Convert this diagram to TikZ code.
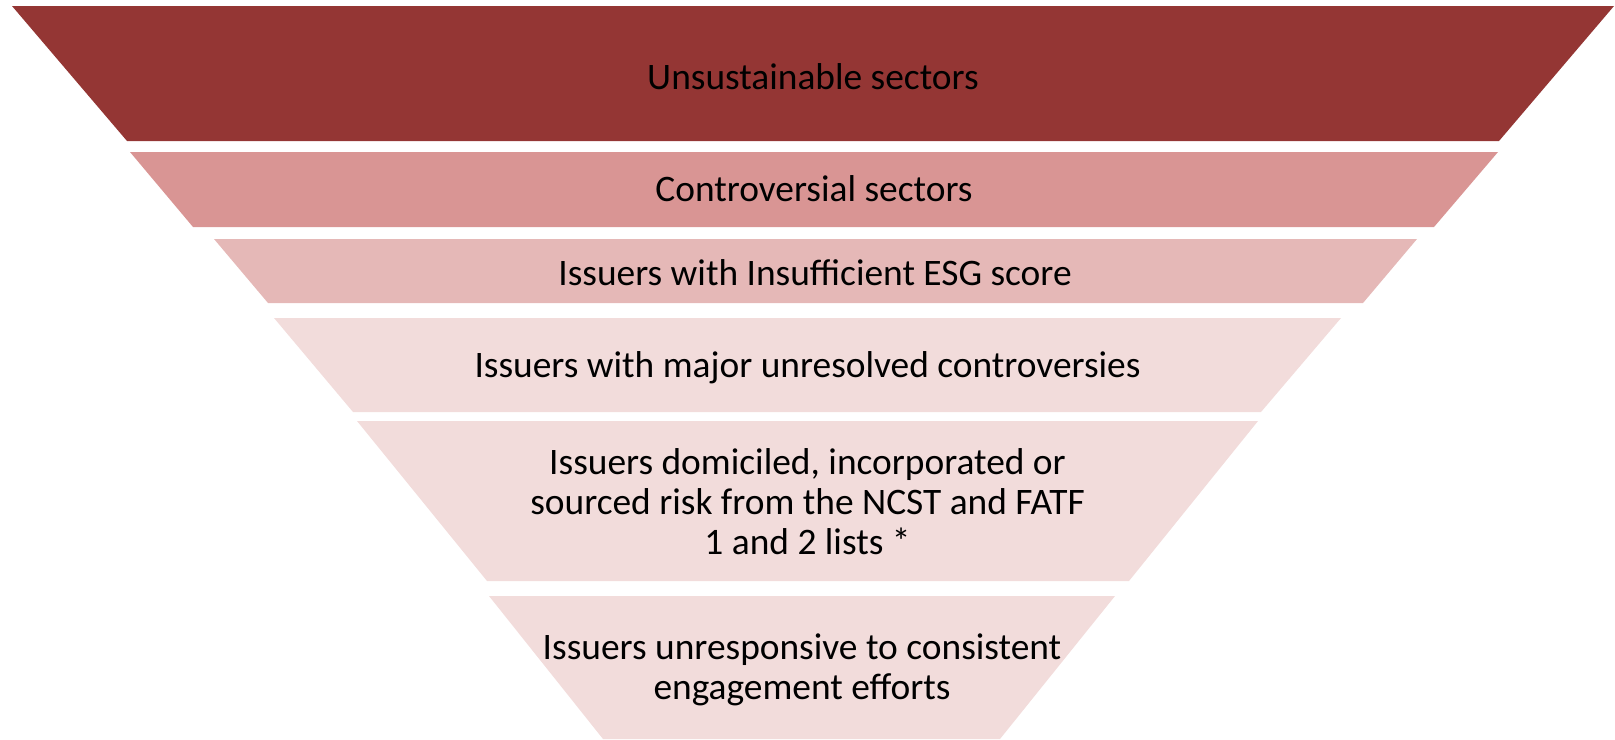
\documentclass[tikz,border=0pt]{standalone}
\usepackage{fontspec}
\setmainfont{Carlito}
\definecolor{tierdark}{HTML}{943634}
\definecolor{tiermid}{HTML}{D99594}
\definecolor{tierlight}{HTML}{E5B8B7}
\definecolor{tierpale}{HTML}{F2DCDB}
\tikzset{
  tierlabel/.style={align=center, text=black, inner sep=0pt,
    font=\fontsize{18.7}{20}\selectfont}
}
\begin{document}
\begin{tikzpicture}[x=0.5pt,y=-0.5pt]
\useasboundingbox (0,0) rectangle (1615,739);

% 1. Tiers of the funnel
\fill[tierdark]  (12,6)    -- (1614,6)   -- (1499,141) -- (127,141) -- cycle;
\fill[tiermid]   (130,152) -- (1498,152) -- (1434,227) -- (193,227) -- cycle;
\fill[tierlight] (214,239) -- (1417,239) -- (1363,303) -- (268,303) -- cycle;
\fill[tierpale]  (274,318) -- (1341,318) -- (1261,412) -- (353,412) -- cycle;
\fill[tierpale]  (357,421) -- (1258,421) -- (1129,581) -- (487,581) -- cycle;
\fill[tierpale]  (489,596) -- (1115,596) -- (1000,739) -- (603,739) -- cycle;

% 2. Labels
\node[tierlabel] (unsust)  at (813,77)    {Unsustainable sectors};
\node[tierlabel] (controv) at (814,189)   {Controversial sectors};
\node[tierlabel] (esg)     at (815,273)   {Issuers with Insufficient ESG score};
\node[tierlabel] (major)   at (807.5,368) {Issuers with major unresolved controversies};
\node[tierlabel] (domic)   at (807.5,502) {Issuers domiciled, incorporated or\\sourced risk from the NCST and FATF\\1 and 2 lists *};
\node[tierlabel] (unresp)  at (802,670)   {Issuers unresponsive to consistent\\engagement efforts};

\end{tikzpicture}
\end{document}
